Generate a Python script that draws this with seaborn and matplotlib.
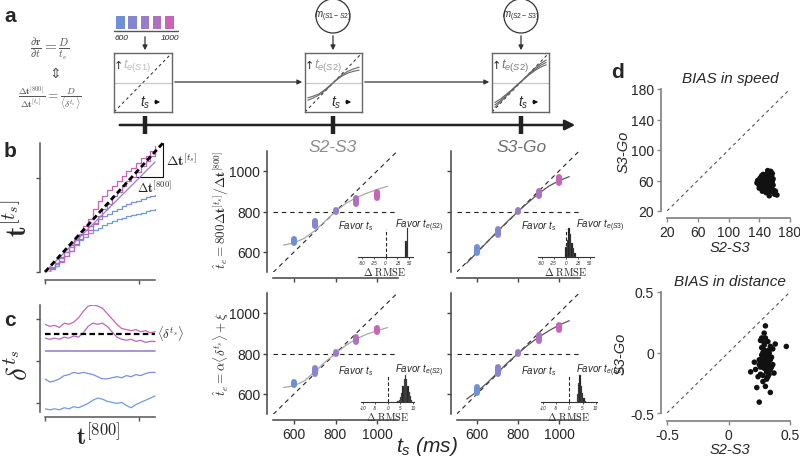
import numpy as np
import pandas as pd
import seaborn as sns
import matplotlib.pyplot as plt
from matplotlib.patches import Circle, Rectangle

# ---- valores ----
ts_vals = [600, 700, 800, 900, 1000]
ts_colors = ["#6f8fd8", "#8487d0", "#9a7cc8", "#b070c0", "#c964b6"]
ts_ticks = [600, 800, 1000]
est_lim = [500, 1100]
curve_ts = [550, 600, 650, 700, 750, 800, 850, 900, 950, 1000, 1050]

# b, S2-S3
b23_lo = [645, 726, 798, 836, 868]
b23_hi = [666, 752, 806, 866, 898]
b23_curve = [634, 645, 668, 705, 752, 800, 840, 868, 890, 908, 925]
# b, S3-Go
b3g_lo = [596, 685, 797, 876, 942]
b3g_hi = [624, 712, 805, 903, 968]
b3g_curve = [545, 598, 650, 702, 752, 800, 845, 888, 925, 952, 972]
# c, S2-S3
c23_lo = [643, 700, 797, 858, 904]
c23_hi = [661, 726, 805, 882, 926]
c23_curve = [632, 640, 665, 710, 758, 800, 840, 872, 895, 912, 928]
# c, S3-Go
c3g_lo = [605, 700, 797, 862, 918]
c3g_hi = [633, 735, 806, 890, 941]
c3g_curve = [575, 612, 655, 705, 755, 800, 843, 880, 912, 940, 962]

# histogramas de Delta RMSE
hb23_c = [43, 47]
hb23_h = [0.55, 1.0]
hb3g_c = [1, 4, 7, 10, 13, 16, 19]
hb3g_h = [0.35, 0.6, 1.0, 0.8, 0.5, 0.3, 0.15]
hc23_c = [4.0, 4.5, 5.0, 5.5, 6.0, 6.5, 7.0, 7.5, 8.0, 8.5, 9.0, 9.5]
hc23_h = [0.05, 0.1, 0.2, 0.35, 0.6, 0.85, 1.0, 0.85, 0.6, 0.4, 0.25, 0.08]
hc3g_c = [3.0, 3.5, 4.0, 4.5, 5.0, 5.5, 6.0]
hc3g_h = [0.3, 0.7, 1.0, 0.6, 0.35, 0.15, 0.05]
rmse_ticks_b = [-50, -25, 0, 25, 50]
rmse_ticks_c = [-10, -5, 0, 5, 10]

# trazas panel b (t^[ts] contra t^[800])
trace_t = np.linspace(0, 1.12, 24)
pink1 = [0, .04, .07, .12, .16, .21, .26, .30, .36, .42, .50, .56, .60, .65, .68, .72, .76, .80, .82, .86, .90, .92, .96, 1.0]
pink2 = [0, .02, .06, .08, .13, .17, .22, .26, .30, .33, .38, .44, .50, .54, .60, .63, .68, .72, .75, .79, .84, .88, .92, .97]
blue1 = [0, .03, .07, .11, .16, .20, .25, .29, .33, .36, .39, .42, .44, .46, .48, .50, .52, .54, .55, .56, .58, .59, .60, .61]
blue2 = [0, .02, .05, .09, .13, .17, .21, .25, .28, .31, .33, .35, .37, .39, .40, .42, .43, .44, .45, .46, .47, .48, .49, .50]
b_ideal = [0, 1.02]
b_ideal_t = [0, 1.2]
b_mid = [0, 0.87]
b_mid_t = [0, 1.12]

# trazas panel c (delta^ts)
c_pink1 = [82, 80, 81, 79, 83, 82, 84, 88, 94, 99, 100, 99, 97, 92, 87, 82, 78, 77, 76, 77, 75, 76, 74, 75]
c_pink2 = [69, 68, 69, 68, 70, 69, 71, 70, 74, 80, 83, 82, 83, 80, 75, 70, 68, 67, 68, 66, 67, 65, 66, 66]
c_blue1 = [31, 28, 29, 31, 34, 35, 37, 36, 37, 36, 35, 33, 31, 31, 32, 33, 32, 34, 33, 35, 34, 36, 37, 37]
c_blue2 = [3, 2, 3, 2, 4, 3, 5, 4, 6, 8, 11, 13, 12, 10, 9, 8, 9, 6, 4, 7, 9, 11, 13, 15]
c_mean = 73
c_mid = 57

# curvas de los esquemas del panel a
box_x = [0.05, 0.15, 0.25, 0.35, 0.45, 0.55, 0.65, 0.75, 0.85, 0.95]
box2_curves = [
    [0.20, 0.24, 0.29, 0.36, 0.45, 0.55, 0.63, 0.69, 0.73, 0.76],
    [0.24, 0.27, 0.31, 0.38, 0.46, 0.54, 0.61, 0.66, 0.69, 0.71],
]
box3_curves = [
    [0.08, 0.17, 0.27, 0.37, 0.46, 0.55, 0.65, 0.74, 0.82, 0.88],
    [0.12, 0.19, 0.28, 0.37, 0.46, 0.55, 0.64, 0.72, 0.79, 0.84],
    [0.16, 0.22, 0.30, 0.38, 0.47, 0.55, 0.63, 0.70, 0.76, 0.80],
]

# panel d
speed_x = [148, 150, 152, 146, 144, 155, 153, 141, 139, 147,
           151, 156, 158, 143, 149, 145, 154, 150, 142, 137,
           160, 157, 152, 148, 146, 163, 140, 151, 153, 149,
           145, 156, 159, 144, 147, 150, 155, 138, 152, 149,
           157, 146, 143, 161, 154, 148, 151, 147, 150, 158,
           153, 149, 145, 151, 147, 155, 143, 150, 148, 152,
           156, 146, 154, 142, 150, 148, 153, 145, 157, 151]
speed_y = [58, 55, 62, 60, 52, 57, 66, 63, 55, 48,
           70, 50, 62, 66, 44, 68, 45, 52, 58, 57,
           42, 69, 60, 64, 55, 41, 50, 73, 40, 57,
           61, 54, 47, 46, 53, 65, 72, 60, 49, 51,
           59, 67, 62, 46, 63, 56, 58, 50, 68, 54,
           63, 60, 57, 55, 62, 59, 60, 64, 52, 57,
           65, 58, 53, 54, 61, 66, 50, 64, 55, 48]
dist_x = [0.30, 0.28, 0.32, 0.27, 0.33, 0.29, 0.31, 0.25, 0.35, 0.26,
          0.34, 0.30, 0.28, 0.36, 0.24, 0.31, 0.29, 0.33, 0.27, 0.22,
          0.38, 0.30, 0.47, 0.18, 0.23, 0.34, 0.26, 0.32, 0.29, 0.31,
          0.35, 0.28, 0.30, 0.37, 0.25, 0.33, 0.27, 0.29, 0.32, 0.31,
          0.34, 0.28, 0.26, 0.30, 0.21, 0.36, 0.32, 0.29, 0.27, 0.33,
          0.29, 0.31, 0.27, 0.30, 0.32, 0.28, 0.26, 0.33, 0.30, 0.31,
          0.25, 0.29, 0.34, 0.27, 0.31, 0.28, 0.30, 0.32, 0.26, 0.29]
dist_y = [-0.05, -0.10, -0.08, -0.02, 0.02, -0.13, -0.15, -0.06, -0.04, -0.18,
          0.05, 0.12, -0.12, -0.10, -0.20, -0.22, 0.08, -0.01, 0.04, -0.14,
          0.07, -0.28, 0.05, -0.16, -0.29, -0.33, 0.10, -0.09, 0.16, -0.07,
          -0.12, -0.03, 0.22, -0.17, -0.41, 0.00, -0.08, 0.02, -0.20, -0.11,
          -0.06, -0.24, -0.09, -0.03, -0.08, 0.03, -0.12, -0.05, 0.12, -0.18,
          -0.09, -0.04, -0.11, -0.13, -0.06, 0.00, -0.07, -0.10, -0.02, -0.16,
          -0.10, 0.06, -0.14, -0.05, 0.01, -0.19, -0.08, 0.09, -0.12, -0.03]
speed_ticks = [20, 60, 100, 140, 180]
dist_ticks = [-0.5, 0, 0.5]
dist_labels = ["-0.5", "0", "0.5"]

# ---- estilo ----
sns.set_style("ticks")
plt.rcParams["font.family"] = ["Liberation Sans", "DejaVu Sans"]
plt.rcParams["mathtext.fontset"] = "custom"
plt.rcParams["mathtext.it"] = "Liberation Sans:italic"
plt.rcParams["mathtext.rm"] = "Liberation Sans"
plt.rcParams["mathtext.bf"] = "Liberation Sans:bold"
plt.rcParams["axes.facecolor"] = "none"

W, H = 800, 464
fig = plt.figure(figsize=(8, 4.64), dpi=100)


def px_rect(x0, y0, x1, y1):
    return [x0 / W, 1 - y1 / H, (x1 - x0) / W, (y1 - y0) / H]


def offset_spines(ax, left_px, bottom_px, color="#444", lw=1.1):
    ax.spines["left"].set_position(("outward", left_px * 0.72))
    ax.spines["bottom"].set_position(("outward", bottom_px * 0.72))
    ax.spines["top"].set_visible(False)
    ax.spines["right"].set_visible(False)
    for s in ["left", "bottom"]:
        ax.spines[s].set_color(color)
        ax.spines[s].set_linewidth(lw)
    ax.tick_params(length=3, width=1, color=color, pad=2)


# capa de dibujo en pixeles (esquemas y textos)
ov = fig.add_axes([0, 0, 1, 1])
ov.set_xlim(0, W)
ov.set_ylim(H, 0)
ov.axis("off")

# ---- panel a ----
for i, col in enumerate(ts_colors):
    ov.add_patch(Rectangle((116 + 12.3 * i, 17), 8.5, 13, color=col, lw=0))
ov.plot([114, 178], [32, 32], color="#555", lw=1)
ov.text(121, 39, "600", fontsize=6, style="italic", ha="center", va="center")
ov.text(170, 39, "1000", fontsize=6, style="italic", ha="center", va="center")

arrow = dict(arrowstyle="-|>", color="#333", lw=0.9, mutation_scale=7)
ov.annotate("", xy=(145, 54), xytext=(145, 35), arrowprops=arrow)
for cx, lab in [(333, r"$m_{(S1-S2)}$"), (521, r"$m_{(S2-S3)}$")]:
    ov.add_patch(Circle((cx, 17), 17, fill=False, ec="#333", lw=0.9))
    ov.text(cx, 17, lab, fontsize=7, ha="center", va="center")
    ov.annotate("", xy=(cx, 54), xytext=(cx, 34), arrowprops=arrow)

boxes = [(114, 172, None, "#bbbbbb", "S1"), (305, 362, box2_curves, "#999999", "S2"),
         (492, 549, box3_curves, "#777777", "S2")]
for x0, x1, curves, tcol, lab in boxes:
    bx = fig.add_axes(px_rect(x0, 54, x1, 113))
    bx.plot([0, 1], [0, 1], ls=(0, (3, 3)), color="#222", lw=0.7)
    bx.axhline(0.5, color="#c8c8c8", lw=0.9)
    if curves is not None:
        for cy in curves:
            sns.lineplot(x=box_x, y=cy, color="#666", lw=0.8, ax=bx)
    bx.set_xlim(0, 1)
    bx.set_ylim(0, 1)
    bx.set_xticks([])
    bx.set_yticks([])
    for s in bx.spines.values():
        s.set_color("#666")
        s.set_linewidth(1)
    ov.text(x0 + 4, 66, "↑", fontsize=8, ha="center", va="center", family="DejaVu Sans")
    ov.text(x0 + 9, 66, r"$t_{e(%s)}$" % lab, fontsize=9.5, color=tcol, va="center")
    ov.text(x0 + 26, 103, r"$t_s$", fontsize=10, va="center")
    ov.annotate("", xy=(x0 + 49, 103), xytext=(x0 + 38, 103),
                arrowprops=dict(arrowstyle="-|>", color="#111", lw=0.9, mutation_scale=6))

ov.annotate("", xy=(305, 83), xytext=(172, 83), arrowprops=arrow)
ov.annotate("", xy=(492, 83), xytext=(362, 83), arrowprops=arrow)

ov.annotate("", xy=(578, 126), xytext=(117, 126),
            arrowprops=dict(arrowstyle="-|>", color="#222", lw=1.8, mutation_scale=15))
for tx in [145, 333, 521]:
    ov.plot([tx, tx], [117, 135], color="#222", lw=3.2, solid_capstyle="butt")

eq_kw = dict(math_fontfamily="cm", color="#555", ha="center", va="center")
ov.text(50, 49, r"$\frac{\partial \mathbf{r}}{\partial t} = \frac{D}{t_e}$", fontsize=11, **eq_kw)
ov.text(55, 74, "⇕", fontsize=10, family="DejaVu Sans", color="#555", ha="center", va="center")
ov.text(50, 99, r"$\frac{\Delta\mathbf{t}^{[800]}}{\Delta\mathbf{t}^{[t_s]}} = \frac{D}{\langle\delta^{t_s}\rangle}$",
        fontsize=9.5, **eq_kw)

# ---- panel b izquierda ----
ax = fig.add_axes(px_rect(45, 144, 163, 273))
sns.lineplot(x=trace_t, y=blue2, color="#6d9ce0", lw=0.9, drawstyle="steps-post", ax=ax)
sns.lineplot(x=trace_t, y=blue1, color="#7b8fdc", lw=0.9, drawstyle="steps-post", ax=ax)
sns.lineplot(x=trace_t, y=pink2, color="#b868c0", lw=0.9, drawstyle="steps-post", ax=ax)
sns.lineplot(x=trace_t, y=pink1, color="#c864b8", lw=0.9, drawstyle="steps-post", ax=ax)
ax.plot(b_mid_t, b_mid, color="#9b7bd0", lw=0.9)
ax.plot(b_ideal_t, b_ideal, color="black", lw=2, ls=(0, (2, 1.2)), clip_on=False)
ax.set_xlim(0, 1.2)
ax.set_ylim(0, 1.02)
ax.set_xticks([0, 0.96], labels=["", ""])
ax.set_yticks([0, 0.74], labels=["", ""])
offset_spines(ax, 5, 8, color="#555")
ax.spines["bottom"].set_bounds(0, 1.12)
ax.set_xlabel("")
ax.set_ylabel("")
ov.plot([137, 163, 163], [178, 178, 144], color="#111", lw=0.8)
ov.text(166, 161, r"$\Delta\mathbf{t}^{[t_s]}$", fontsize=10, math_fontfamily="cm", va="center")
ov.text(154, 188, r"$\Delta\mathbf{t}^{[800]}$", fontsize=9, math_fontfamily="cm", ha="center", va="center")
ov.text(18, 218, r"$\mathbf{t}^{[t_s]}$", fontsize=20, math_fontfamily="cm", rotation=90,
        ha="center", va="center")

# ---- panel c izquierda ----
ax = fig.add_axes(px_rect(45, 306, 163, 413))
for ys, col in [(c_pink1, "#c864b8"), (c_pink2, "#b868c0"), (c_blue1, "#7b8fdc"), (c_blue2, "#6d9ce0")]:
    sns.lineplot(x=trace_t, y=ys, color=col, lw=0.9, ax=ax)
ax.plot([trace_t[0], trace_t[-1]], [c_mid, c_mid], color="#a58ad8", lw=1.3)
ax.plot([trace_t[0], trace_t[-1]], [c_mean, c_mean], color="black", lw=1.6, ls=(0, (2.5, 1.5)))
ax.set_xlim(0, 1.2)
ax.set_ylim(0, 100)
ax.set_xticks([0, 0.96], labels=["", ""])
ax.set_yticks([8, 48, 87], labels=["", "", ""])
offset_spines(ax, 5, 5, color="#555")
ax.spines["bottom"].set_bounds(0, 1.12)
ax.set_xlabel("")
ax.set_ylabel("")
ov.text(157, 334, r"$\langle\delta^{t_s}\rangle$", fontsize=9, math_fontfamily="cm", va="center")
ov.text(20, 365, r"$\delta^{t_s}$", fontsize=21, math_fontfamily="cm", rotation=90, ha="center", va="center")
ov.text(98, 437, r"$\mathbf{t}^{[800]}$", fontsize=17, math_fontfamily="cm", ha="center", va="center")


# ---- paneles centrales ----
def panel_est(rect, lo, hi, cy, curve_color, ylab, xlab):
    ax = fig.add_axes(px_rect(*rect))
    ax.plot(est_lim, est_lim, ls=(0, (4, 3.5)), color="#222", lw=0.8)
    ax.axhline(800, ls=(0, (4, 3.5)), color="#222", lw=0.8)
    sns.lineplot(x=curve_ts, y=cy, color=curve_color, lw=0.9, ax=ax)
    pills = ax.vlines(ts_vals, lo, hi, colors=ts_colors, lw=4.3)
    pills.set_capstyle("round")
    ax.set_xlim(est_lim)
    ax.set_ylim(est_lim)
    ax.set_xticks(ts_ticks, labels=[str(t) for t in ts_ticks], fontstyle="italic", fontsize=7.3)
    ax.set_yticks(ts_ticks, labels=[str(t) for t in ts_ticks], fontstyle="italic", fontsize=7.3)
    ax.tick_params(labelleft=ylab, labelbottom=xlab)
    offset_spines(ax, 6, 6)
    ax.set_xlabel("")
    ax.set_ylabel("")
    return ax


def inset(rect, centers, heights, width, xlim, ticks):
    ax = fig.add_axes(px_rect(*rect))
    df = pd.DataFrame({"delta": centers, "peso": heights})
    rango = (centers[0] - width / 2, centers[-1] + width / 2)
    sns.histplot(data=df, x="delta", weights="peso", binwidth=width, binrange=rango,
                 color="#1a1a1a", edgecolor="#777", linewidth=0.2, alpha=1, ax=ax)
    ax.axvline(0, ymax=0.95, ls=(0, (3, 2)), color="#222", lw=0.8)
    ax.set_xlim(xlim)
    ax.set_ylim(0, 1.05)
    ax.set_yticks([])
    ax.set_xticks(ticks, labels=[str(t) for t in ticks], fontsize=3.3, fontstyle="italic")
    ax.tick_params(axis="x", length=1.5, width=0.6, pad=0.8, color="#333")
    for s in ["left", "top", "right"]:
        ax.spines[s].set_visible(False)
    ax.spines["bottom"].set_color("#333")
    ax.spines["bottom"].set_linewidth(0.8)
    ax.set_xlabel("")
    ax.set_ylabel("")


panel_est((273.25, 151.75, 397.75, 273.25), b23_lo, b23_hi, b23_curve, "#a8a8a8", True, False)
panel_est((456.5, 151.75, 579.5, 273.25), b3g_lo, b3g_hi, b3g_curve, "#555555", False, False)
panel_est((273.25, 293.75, 397.75, 415.25), c23_lo, c23_hi, c23_curve, "#a8a8a8", True, True)
panel_est((456.5, 293.75, 579.5, 415.25), c3g_lo, c3g_hi, c3g_curve, "#555555", False, True)

inset((358, 228, 413, 258), hb23_c, hb23_h, 3, (-58, 58), rmse_ticks_b)
inset((537.7, 228, 593.7, 258), hb3g_c, hb3g_h, 3, (-58, 58), rmse_ticks_b)
inset((361.4, 375, 414.3, 403.3), hc23_c, hc23_h, 0.5, (-10.5, 10.5), rmse_ticks_c)
inset((541.4, 375, 597.3, 403.3), hc3g_c, hc3g_h, 0.5, (-10.5, 10.5), rmse_ticks_c)

for xl, xr, y, lab in [(374, 395, 226, "S2"), (557, 576, 226, "S3"), (374, 395, 371, "S2"), (557, 576, 371, "S3")]:
    ov.text(xl, y, r"Favor $t_s$", fontsize=7, style="italic", ha="right", va="center")
    ov.text(xr, y, r"Favor $t_{e(%s)}$" % lab, fontsize=7, style="italic", ha="left", va="center")
for cx, y in [(385, 272), (566, 272), (388, 417), (569, 417)]:
    ov.text(cx, y, r"$\Delta\ \mathrm{RMSE}$", fontsize=7.5, math_fontfamily="cm", ha="center", va="center")

ov.text(333, 148, "S2-S3", fontsize=12.5, style="italic", color="#8c8c8c", ha="center", va="center")
ov.text(522, 148, "S3-Go", fontsize=12.5, style="italic", color="#6e6e6e", ha="center", va="center")
ov.text(427, 447, r"$t_s$ (ms)", fontsize=15, style="italic", ha="center", va="center")
ov.text(221, 210, r"$\hat{t}_e = 800\Delta\mathbf{t}^{[t_s]}/\Delta\mathbf{t}^{[800]}$", fontsize=9.5,
        math_fontfamily="cm", rotation=90, ha="center", va="center")
ov.text(221, 354, r"$\hat{t}_e = \alpha\langle\delta^{t_s}\rangle + \xi$", fontsize=9.5,
        math_fontfamily="cm", rotation=90, ha="center", va="center")

# ---- panel d ----
ax = fig.add_axes(px_rect(667, 90, 790, 212))
ax.plot([speed_ticks[0], speed_ticks[-1]], [speed_ticks[0], speed_ticks[-1]],
        ls=(0, (3, 3)), color="#555", lw=0.8)
sns.scatterplot(x=speed_x, y=speed_y, color="#111", s=16, edgecolor="none", ax=ax)
ax.set_xlim(20, 180)
ax.set_ylim(20, 180)
ax.set_xticks(speed_ticks, labels=[str(t) for t in speed_ticks], fontstyle="italic", fontsize=7)
ax.set_yticks(speed_ticks, labels=[str(t) for t in speed_ticks], fontstyle="italic", fontsize=6.5)
offset_spines(ax, 6, 7, color="#888", lw=1.3)

ax = fig.add_axes(px_rect(667, 293, 790, 414))
ax.plot([dist_ticks[0], dist_ticks[-1]], [dist_ticks[0], dist_ticks[-1]],
        ls=(0, (3, 3)), color="#555", lw=0.8)
sns.scatterplot(x=dist_x, y=dist_y, color="#111", s=16, edgecolor="none", ax=ax)
ax.set_xlim(-0.5, 0.5)
ax.set_ylim(-0.5, 0.5)
ax.set_xticks(dist_ticks, labels=dist_labels, fontstyle="italic", fontsize=7.5)
ax.set_yticks(dist_ticks, labels=dist_labels, fontstyle="italic", fontsize=7)
offset_spines(ax, 6, 8, color="#888", lw=1.3)

ov.text(730, 79, "BIAS in speed", fontsize=11, style="italic", ha="center", va="center")
ov.text(730, 248, "S2-S3", fontsize=10.5, style="italic", ha="center", va="center")
ov.text(624, 152, "S3-Go", fontsize=10.5, style="italic", rotation=90, ha="center", va="center")
ov.text(730, 282, "BIAS in distance", fontsize=11, style="italic", ha="center", va="center")
ov.text(730, 450, "S2-S3", fontsize=10.5, style="italic", ha="center", va="center")
ov.text(621, 354, "S3-Go", fontsize=10.5, style="italic", rotation=90, ha="center", va="center")

# letras de panel
for lx, ly, letter in [(10, 17, "a"), (10, 152, "b"), (10, 321, "c"), (617, 72, "d")]:
    ov.text(lx, ly, letter, fontsize=15, weight="bold", ha="center", va="center")

fig.savefig("out.png", dpi=100)
